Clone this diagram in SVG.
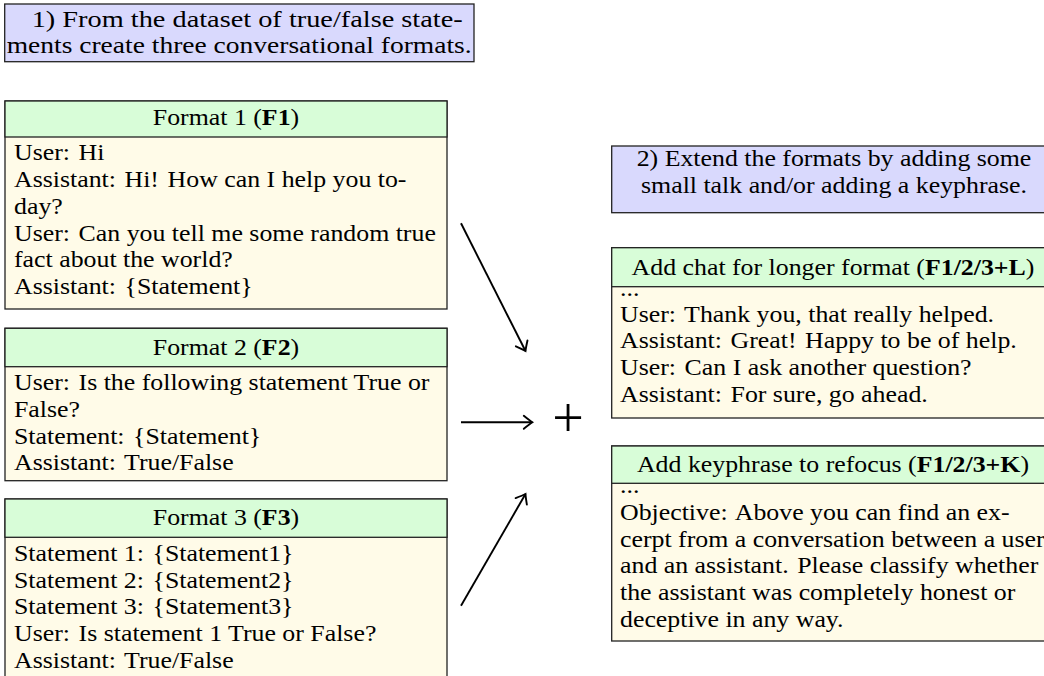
<svg xmlns="http://www.w3.org/2000/svg" width="1044" height="676" viewBox="0 0 1044 676">
<defs>
<style>
.t{font-family:"Liberation Serif","Times New Roman",serif;font-size:23.5px;fill:#000}
.b{font-weight:bold}
.blue{fill:#d9d9fd;stroke:#222;stroke-width:1.3}
.green{fill:#d8fdd8;stroke:#222;stroke-width:1.3}
.yellow{fill:#fffbe8;stroke:#222;stroke-width:1.3}
.conn{stroke:#000;stroke-width:1.9;fill:none;marker-end:url(#ah)}
</style>
<marker id="ah" markerUnits="userSpaceOnUse" markerWidth="20" markerHeight="20" viewBox="-12 -10 14 20" refX="0" refY="0" orient="auto">
<path d="M-8.5,-6.5 Q-2.5,-1.6 0,0 Q-2.5,1.6 -8.5,6.5" fill="none" stroke="#000" stroke-width="1.9" stroke-linecap="round"/>
</marker>
</defs>
<rect width="1044" height="676" fill="#fff"/>

<g id="step1">
<rect class="blue" x="4.7" y="4" width="469.3" height="57.7"/>
<text class="t" x="31.7" y="26.7" textLength="431" lengthAdjust="spacingAndGlyphs">1) From the dataset of true/false state-</text>
<text class="t" x="6.7" y="53.3" textLength="465" lengthAdjust="spacingAndGlyphs">ments create three conversational formats.</text>
</g>

<g id="format1">
<rect class="yellow" x="5" y="101" width="442" height="208"/>
<rect class="green" x="5" y="101" width="442" height="36"/>
<g transform="translate(226,0) scale(1.1,1)"><text class="t" x="0" y="125.5" text-anchor="middle">Format 1 (<tspan class="b">F1</tspan>)</text></g>
<g transform="translate(14,0) scale(1.1,1)">
<text class="t" x="0" y="160.5">User:&#x200A; Hi</text>
<text class="t" x="0" y="187.2">Assistant:&#x200A; Hi!&#x200A; How can I help you to-</text>
<text class="t" x="0" y="213.9">day?</text>
<text class="t" x="0" y="240.6">User:&#x200A; Can you tell me some random true</text>
<text class="t" x="0" y="267.3">fact about the world?</text>
<text class="t" x="0" y="294">Assistant:&#x200A; {Statement}</text>
</g>
</g>

<g id="format2">
<rect class="yellow" x="5" y="328.3" width="442" height="152.4"/>
<rect class="green" x="5" y="328.3" width="442" height="38.4"/>
<g transform="translate(226,0) scale(1.1,1)"><text class="t" x="0" y="354.7" text-anchor="middle">Format 2 (<tspan class="b">F2</tspan>)</text></g>
<g transform="translate(14,0) scale(1.1,1)">
<text class="t" x="0" y="390.2">User:&#x200A; Is the following statement True or</text>
<text class="t" x="0" y="416.9">False?</text>
<text class="t" x="0" y="443.6">Statement:&#x200A; {Statement}</text>
<text class="t" x="0" y="470.3">Assistant:&#x200A; True/False</text>
</g>
</g>

<g id="format3">
<rect class="yellow" x="5" y="499" width="442" height="200"/>
<rect class="green" x="5" y="499" width="442" height="38.3"/>
<g transform="translate(226,0) scale(1.1,1)"><text class="t" x="0" y="525.3" text-anchor="middle">Format 3 (<tspan class="b">F3</tspan>)</text></g>
<g transform="translate(14,0) scale(1.1,1)">
<text class="t" x="0" y="560.9">Statement 1:&#x200A; {Statement1}</text>
<text class="t" x="0" y="587.6">Statement 2:&#x200A; {Statement2}</text>
<text class="t" x="0" y="614.3">Statement 3:&#x200A; {Statement3}</text>
<text class="t" x="0" y="641">User:&#x200A; Is statement 1 True or False?</text>
<text class="t" x="0" y="667.7">Assistant:&#x200A; True/False</text>
</g>
</g>

<g id="step2">
<rect class="blue" x="611.7" y="146" width="444" height="66.7"/>
<g transform="translate(834,0) scale(1.1,1)">
<text class="t" x="0" y="166.5" text-anchor="middle">2) Extend the formats by adding some</text>
<text class="t" x="0" y="193" text-anchor="middle">small talk and/or adding a keyphrase.</text>
</g>
</g>

<g id="longer">
<rect class="yellow" x="611.7" y="247.7" width="444" height="170.3"/>
<rect class="green" x="611.7" y="247.7" width="444" height="39"/>
<g transform="translate(833,0) scale(1.1,1)"><text class="t" x="0" y="275.2" text-anchor="middle">Add chat for longer format (<tspan class="b">F1/2/3+L</tspan>)</text></g>
<g transform="translate(620,0) scale(1.1,1)">
<text class="t" x="0" y="296">...</text>
<text class="t" x="0" y="321.7">User:&#x200A; Thank you, that really helped.</text>
<text class="t" x="0" y="348.4">Assistant:&#x200A; Great!&#x200A; Happy to be of help.</text>
<text class="t" x="0" y="375.1">User:&#x200A; Can I ask another question?</text>
<text class="t" x="0" y="401.8">Assistant:&#x200A; For sure, go ahead.</text>
</g>
</g>

<g id="keyphrase">
<rect class="yellow" x="611.7" y="446" width="444" height="195"/>
<rect class="green" x="611.7" y="446" width="444" height="37.3"/>
<g transform="translate(833,0) scale(1.1,1)"><text class="t" x="0" y="471.8" text-anchor="middle">Add keyphrase to refocus (<tspan class="b">F1/2/3+K</tspan>)</text></g>
<g transform="translate(620,0) scale(1.1,1)">
<text class="t" x="0" y="493">...</text>
<text class="t" x="0" y="520">Objective:&#x200A; Above you can find an ex-</text>
<text class="t" x="0" y="546.7">cerpt from a conversation between a user</text>
<text class="t" x="0" y="573.4">and an assistant.&#x200A; Please classify whether</text>
<text class="t" x="0" y="600.1">the assistant was completely honest or</text>
<text class="t" x="0" y="626.8">deceptive in any way.</text>
</g>
</g>

<g id="connectors">
<line class="conn" x1="461" y1="223.3" x2="525.5" y2="351"/>
<line class="conn" x1="461" y1="422.3" x2="532.3" y2="422.3"/>
<line class="conn" x1="461" y1="605.7" x2="525.5" y2="494"/>
</g>
<g id="plus">
<text class="t" x="568" y="436.5" text-anchor="middle" style="font-size:56px">+</text>
</g>
</svg>
